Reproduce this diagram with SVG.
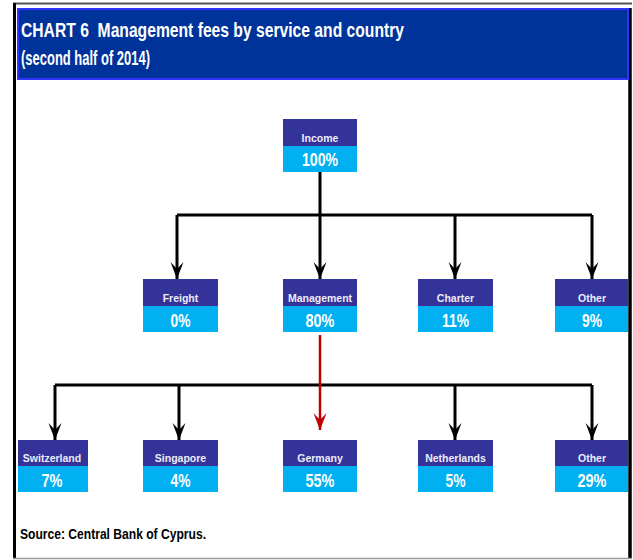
<svg xmlns="http://www.w3.org/2000/svg" width="633" height="560" viewBox="0 0 633 560">
  <style>
    .title { font-family: "Liberation Sans", Arial, sans-serif; font-weight: bold; font-size: 21px; fill: #ffffff; }
    .src { font-family: "Liberation Sans", Arial, sans-serif; font-weight: bold; font-size: 15px; fill: #000000; }
    .head { fill: #333399; }
    .val { fill: #00b0f0; }
    .lbl { font-family: "Liberation Sans", Arial, sans-serif; font-weight: bold; font-size: 10.5px; fill: #ececf8; text-anchor: middle; }
    .pct { font-family: "Liberation Sans", Arial, sans-serif; font-weight: bold; font-size: 18px; fill: #ffffff; text-anchor: middle; }
    .ln { fill: none; stroke: #000000; stroke-width: 3; }
    .red { fill: none; stroke: #c00000; stroke-width: 2.5; }
  </style>
  <defs>
    <marker id="arr" markerUnits="userSpaceOnUse" markerWidth="20" markerHeight="16" viewBox="-18 -8 20 16" refX="0" refY="0" orient="auto">
      <path d="M0,0 L-17,-6.5 L-10,0 L-17,6.5 Z" fill="#000000"/>
    </marker>
    <marker id="arrRed" markerUnits="userSpaceOnUse" markerWidth="20" markerHeight="16" viewBox="-18 -8 20 16" refX="0" refY="0" orient="auto">
      <path d="M0,0 L-17,-6.5 L-10,0 L-17,6.5 Z" fill="#c00000"/>
    </marker>
  </defs>

  <rect width="633" height="560" fill="#ffffff"/>

  <!-- outer frame -->
  <line x1="13" y1="3.5" x2="632" y2="3.5" stroke="#555555" stroke-width="2"/>
  <line x1="14.5" y1="3" x2="14.5" y2="558" stroke="#000000" stroke-width="3"/>
  <line x1="630" y1="8" x2="630" y2="558" stroke="#000000" stroke-width="3.5"/>
  <line x1="13" y1="558.5" x2="632" y2="558.5" stroke="#999999" stroke-width="1.5"/>

  <!-- title band -->
  <g id="title">
    <rect x="18" y="9" width="610" height="70" fill="#003399" stroke="#3333ff" stroke-width="2"/>
    <text class="title" x="21" y="37" textLength="383" lengthAdjust="spacingAndGlyphs" xml:space="preserve">CHART 6  Management fees by service and country</text>
    <text class="title" x="21" y="65" textLength="129" lengthAdjust="spacingAndGlyphs">(second half of 2014)</text>
  </g>

  <!-- connectors -->
  <g id="connectors">
    <path class="ln" d="M320,172 V215"/>
    <path class="ln" d="M177,215 H592"/>
    <path class="ln" d="M177,215 V279" marker-end="url(#arr)"/>
    <path class="ln" d="M320,215 V279" marker-end="url(#arr)"/>
    <path class="ln" d="M455,215 V279" marker-end="url(#arr)"/>
    <path class="ln" d="M592,215 V279" marker-end="url(#arr)"/>

    <path class="ln" d="M55,385 H592"/>
    <path class="ln" d="M55,385 V440" marker-end="url(#arr)"/>
    <path class="ln" d="M179,385 V440" marker-end="url(#arr)"/>
    <path class="ln" d="M455,385 V440" marker-end="url(#arr)"/>
    <path class="ln" d="M592,385 V440" marker-end="url(#arr)"/>
    <path class="red" d="M320,335 V430" marker-end="url(#arrRed)"/>
  </g>

  <!-- top level -->
  <g id="income">
    <rect class="head" x="283" y="119" width="74" height="27"/>
    <rect class="val" x="283" y="146" width="74" height="26"/>
    <text class="lbl" x="320" y="142">Income</text>
    <text class="pct" x="320" y="166" textLength="36" lengthAdjust="spacingAndGlyphs">100%</text>
  </g>

  <!-- services -->
  <g id="freight">
    <rect class="head" x="143" y="279" width="75" height="27"/>
    <rect class="val" x="143" y="306" width="75" height="26"/>
    <text class="lbl" x="180.5" y="302">Freight</text>
    <text class="pct" x="180.5" y="327" textLength="20" lengthAdjust="spacingAndGlyphs">0%</text>
  </g>
  <g id="management">
    <rect class="head" x="283" y="279" width="74" height="27"/>
    <rect class="val" x="283" y="306" width="74" height="26"/>
    <text class="lbl" x="320" y="302">Management</text>
    <text class="pct" x="320" y="327" textLength="29" lengthAdjust="spacingAndGlyphs">80%</text>
  </g>
  <g id="charter">
    <rect class="head" x="418" y="279" width="75" height="27"/>
    <rect class="val" x="418" y="306" width="75" height="26"/>
    <text class="lbl" x="455.5" y="302">Charter</text>
    <text class="pct" x="455.5" y="327" textLength="27" lengthAdjust="spacingAndGlyphs">11%</text>
  </g>
  <g id="other-service">
    <rect class="head" x="555" y="279" width="73" height="27"/>
    <rect class="val" x="555" y="306" width="73" height="26"/>
    <text class="lbl" x="592" y="302">Other</text>
    <text class="pct" x="592" y="327" textLength="20" lengthAdjust="spacingAndGlyphs">9%</text>
  </g>

  <!-- countries -->
  <g id="switzerland">
    <rect class="head" x="18" y="440" width="70" height="26"/>
    <rect class="val" x="18" y="466" width="70" height="26"/>
    <text class="lbl" x="52" y="462">Switzerland</text>
    <text class="pct" x="52" y="487" textLength="21" lengthAdjust="spacingAndGlyphs">7%</text>
  </g>
  <g id="singapore">
    <rect class="head" x="143" y="440" width="75" height="26"/>
    <rect class="val" x="143" y="466" width="75" height="26"/>
    <text class="lbl" x="180.5" y="462">Singapore</text>
    <text class="pct" x="180.5" y="487" textLength="20" lengthAdjust="spacingAndGlyphs">4%</text>
  </g>
  <g id="germany">
    <rect class="head" x="283" y="440" width="74" height="26"/>
    <rect class="val" x="283" y="466" width="74" height="26"/>
    <text class="lbl" x="320" y="462">Germany</text>
    <text class="pct" x="320" y="487" textLength="29" lengthAdjust="spacingAndGlyphs">55%</text>
  </g>
  <g id="netherlands">
    <rect class="head" x="418" y="440" width="75" height="26"/>
    <rect class="val" x="418" y="466" width="75" height="26"/>
    <text class="lbl" x="455.5" y="462">Netherlands</text>
    <text class="pct" x="455.5" y="487" textLength="20" lengthAdjust="spacingAndGlyphs">5%</text>
  </g>
  <g id="other-country">
    <rect class="head" x="555" y="440" width="73" height="26"/>
    <rect class="val" x="555" y="466" width="73" height="26"/>
    <text class="lbl" x="592" y="462">Other</text>
    <text class="pct" x="592" y="487" textLength="29" lengthAdjust="spacingAndGlyphs">29%</text>
  </g>

  <text class="src" x="20" y="539" textLength="186" lengthAdjust="spacingAndGlyphs">Source: Central Bank of Cyprus.</text>
</svg>
